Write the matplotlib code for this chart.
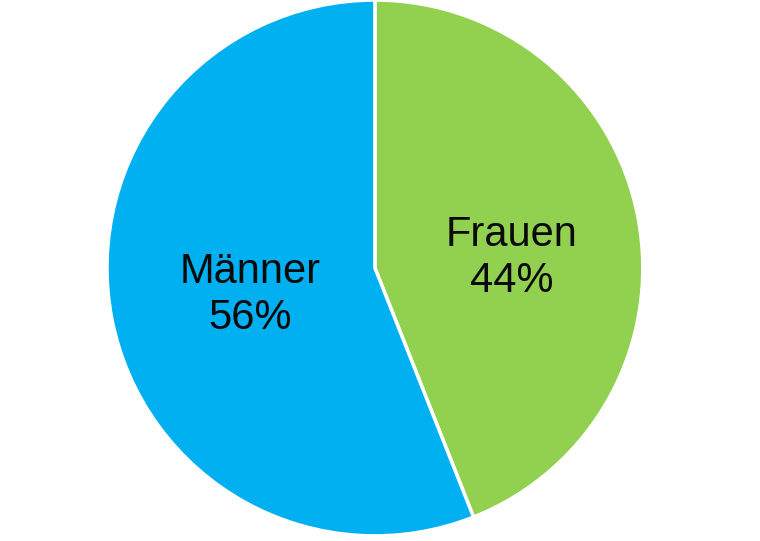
import matplotlib
matplotlib.use("Agg")
from matplotlib import pyplot as plt

labels = ["Frauen", "Männer"]
shares = [44, 56]
colors = ["#92D050", "#00B0F0"]

plt.rcParams["font.family"] = ["Liberation Sans", "DejaVu Sans"]

fig = plt.figure(figsize=(7.6, 5.41), dpi=100)
ax = fig.add_axes([0.1408, 0.0092, 0.705, 0.991])

wedges, texts = ax.pie(shares, colors=colors, startangle=90, counterclock=False,
                       wedgeprops=dict(edgecolor="white", linewidth=2.5))
ax.set_aspect("equal")
ax.set_xlim(-1, 1)
ax.set_ylim(-1, 1)

# label positions in axes units of radius
pos = [(0.51, 0.037), (-0.465, -0.10)]
for lab, val, (px, py) in zip(labels, shares, pos):
    ax.text(px, py, f"{lab}\n{val}%", ha="center", va="center",
            fontsize=30, color="#0a0a0a", linespacing=1.2)

fig.savefig("out.png", dpi=100)
